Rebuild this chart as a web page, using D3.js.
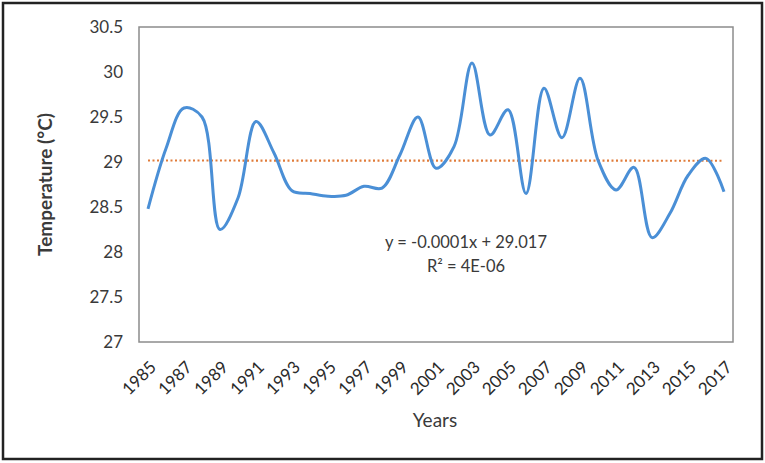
<!DOCTYPE html>
<html>
<head>
<meta charset="utf-8">
<script src="https://cdn.jsdelivr.net/npm/d3@7"></script>
<style>
  body { margin: 0; background: #fff; }
  svg { display: block; font-family: Lato, "Open Sans", sans-serif; }
</style>
</head>
<body>
<div id="chart"></div>
<script>
// yearly mean temperature
const years = d3.range(1985, 2018);
const temps = [28.48, 29.15, 29.6, 29.5, 28.25, 28.6, 29.45, 29.1, 28.68, 28.65,
               28.62, 28.63, 28.73, 28.71, 29.08, 29.5, 28.93, 29.17, 30.1, 29.3,
               29.58, 28.65, 29.82, 29.27, 29.93, 29.02, 28.69, 28.94, 28.16, 28.43,
               28.85, 29.04, 28.67];
const yTicks = [27, 27.5, 28, 28.5, 29, 29.5, 30, 30.5];
const xLabels = years.filter((d, i) => i % 2 === 0);
// linear trend from the chart (x = 1..33)
const trendSlope = -0.0001;
const trendIntercept = 29.017;
const trendText = ["y = -0.0001x + 29.017", "R\u00b2 = 4E-06"];

const W = 765, H = 463;
const MARGIN = {left: 139, right: 32, top: 27, bottom: 121};

const svg = d3.select("#chart").append("svg")
    .attr("width", W)
    .attr("height", H);

// outer frame
svg.append("rect")
    .attr("x", 3).attr("y", 3)
    .attr("width", W - 6).attr("height", H - 7)
    .attr("fill", "none")
    .attr("stroke", "#222")
    .attr("stroke-width", 2.5);

const x = d3.scaleBand()
    .domain(years)
    .range([MARGIN.left, W - MARGIN.right]);

const y = d3.scaleLinear()
    .domain([27, 30.5])
    .range([H - MARGIN.bottom, MARGIN.top]);

const cx = d => x(d) + x.bandwidth() / 2;

// plot area box
svg.append("rect")
    .attr("x", MARGIN.left).attr("y", MARGIN.top)
    .attr("width", W - MARGIN.left - MARGIN.right)
    .attr("height", H - MARGIN.top - MARGIN.bottom)
    .attr("fill", "none")
    .attr("stroke", "#8c8c8c")
    .attr("stroke-width", 1.5);

// y axis labels
const axisY = d3.axisLeft(y).tickValues(yTicks).tickSize(0).tickPadding(16)
    .tickFormat(d => d3.format("")(d));
svg.append("g")
    .attr("transform", `translate(${MARGIN.left},0)`)
    .call(axisY)
    .call(g => g.select(".domain").remove())
    .selectAll("text")
    .attr("font-size", 17)
    .attr("fill", "#3a3a3a")
    .attr("font-family", "Lato, sans-serif");

// x axis labels (every other year, rotated)
const axisX = d3.axisBottom(x).tickValues(xLabels).tickSize(0).tickPadding(0);
svg.append("g")
    .attr("transform", `translate(0,${H - MARGIN.bottom})`)
    .call(axisX)
    .call(g => g.select(".domain").remove())
    .selectAll("text")
    .attr("font-size", 17)
    .attr("fill", "#2a2a2a")
    .attr("font-family", "Lato, sans-serif")
    .attr("text-anchor", "end")
    .attr("dy", "0.35em")
    .attr("transform", "translate(5,22) rotate(-45)");

// trend line
const trend = [1, years.length].map(i => ({yr: years[i - 1], v: trendSlope * i + trendIntercept}));
svg.append("path")
    .datum(trend)
    .attr("fill", "none")
    .attr("stroke", "#e07b39")
    .attr("stroke-width", 2.2)
    .attr("stroke-dasharray", "2,2.5")
    .attr("d", d3.line().x(d => cx(d.yr)).y(d => y(d.v)));

// temperature curve
svg.append("path")
    .datum(years.map((yr, i) => ({yr, v: temps[i]})))
    .attr("fill", "none")
    .attr("stroke", "#4a8fd6")
    .attr("stroke-width", 3)
    .attr("stroke-linejoin", "round")
    .attr("d", d3.line().curve(d3.curveCatmullRom.alpha(0.5)).x(d => cx(d.yr)).y(d => y(d.v)));

// equation
svg.append("g").selectAll("text")
    .data(trendText)
    .enter()
    .append("text")
    .attr("x", 466)
    .attr("y", (d, i) => 248 + i * 24)
    .attr("text-anchor", "middle")
    .attr("font-size", 16.5)
    .attr("fill", "#3a3a3a")
    .text(d => d);

// axis titles
svg.append("text")
    .attr("transform", `translate(52,${(MARGIN.top + H - MARGIN.bottom) / 2}) rotate(-90)`)
    .attr("text-anchor", "middle")
    .attr("font-size", 19)
    .attr("font-weight", "bold")
    .attr("fill", "#3a3a3a")
    .text("Temperature (\u00b0C)");

svg.append("text")
    .attr("x", 435)
    .attr("y", 427)
    .attr("text-anchor", "middle")
    .attr("font-size", 19)
    .attr("fill", "#3a3a3a")
    .text("Years");
</script>
</body>
</html>
